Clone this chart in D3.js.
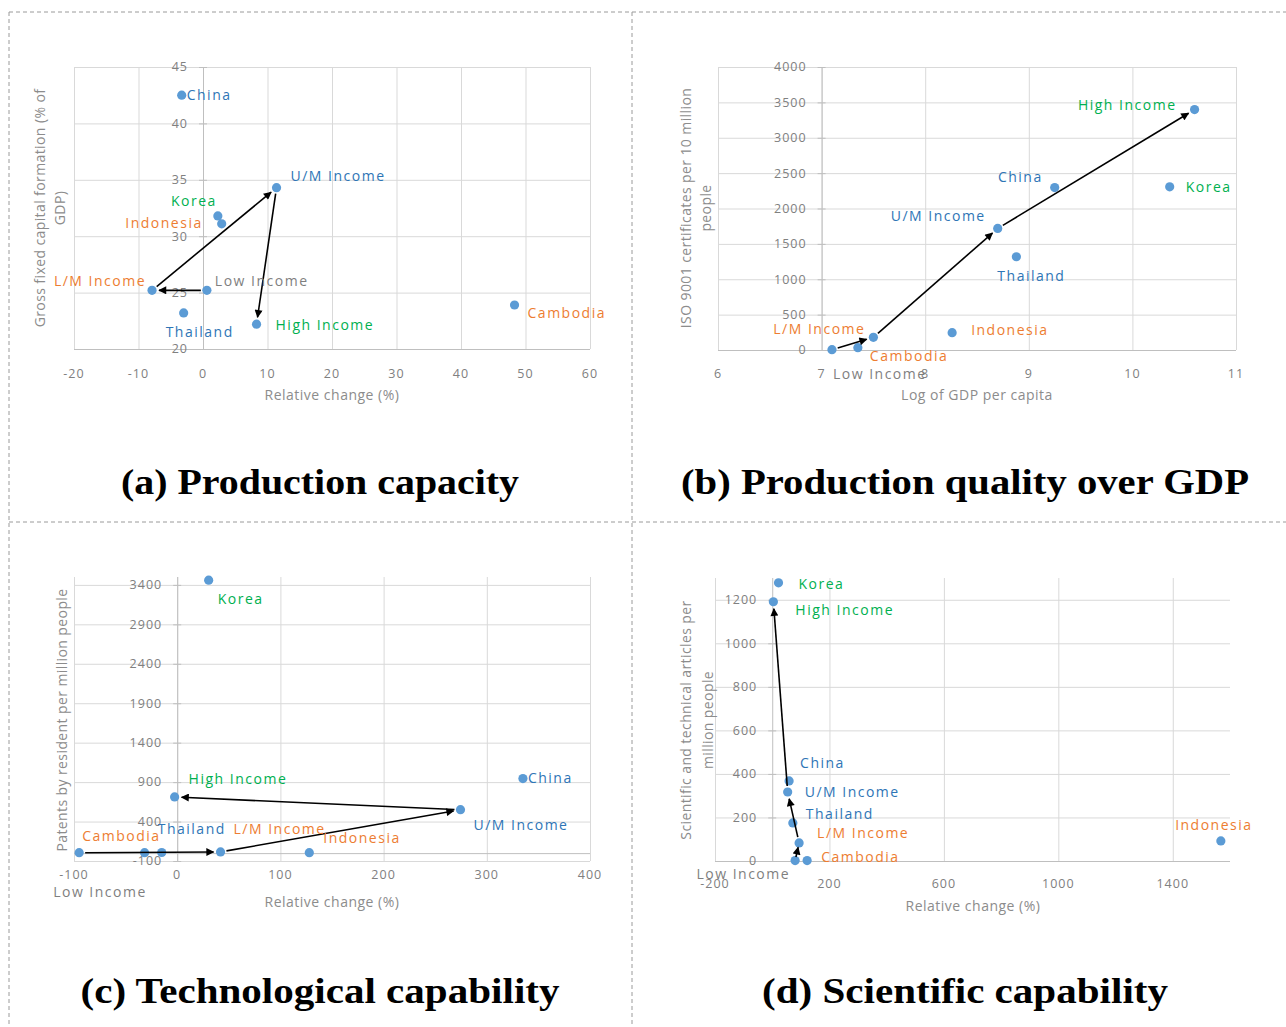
<!DOCTYPE html>
<html>
<head>
<meta charset="utf-8">
<script src="https://cdn.jsdelivr.net/npm/d3@7"></script>
<style>
  html, body { margin: 0; padding: 0; background: #fff; }
  svg { display: block; }
</style>
</head>
<body>
<svg id="chart" width="1286" height="1027"></svg>
<script>
// ---------------- DATA ----------------
const names = ["Low Income", "L/M Income", "U/M Income", "High Income", "China", "Korea", "Indonesia", "Thailand", "Cambodia"];
const incomePath = ["Low Income", "L/M Income", "U/M Income", "High Income"];

// (a) Production capacity
const aX = [0.6, -7.9, 11.4, 8.3, -3.3, 2.3, 2.9, -3.0, 48.3];
const aY = [25.2, 25.2, 34.3, 22.2, 42.5, 31.8, 31.1, 23.2, 23.9];
const aXTicks = [-20, -10, 0, 10, 20, 30, 40, 50, 60];
const aYTicks = [20, 25, 30, 35, 40, 45];

// (b) Production quality over GDP
const bX = [7.10, 7.50, 8.70, 10.60, 9.25, 10.36, 8.26, 8.88, 7.35];
const bY = [5, 179, 1718, 3398, 2296, 2306, 245, 1318, 33];
const bXTicks = [6, 7, 8, 9, 10, 11];
const bYTicks = [0, 500, 1000, 1500, 2000, 2500, 3000, 3500, 4000];

// (c) Technological capability
const cX = [-95, 42, 274.5, -2.5, 335, 30.5, 128, -15, -31.6];
const cY = [5, 15, 550, 712, 945, 3460, 5, 8, 5];
const cXTicks = [-100, 0, 100, 200, 300, 400];
const cYTicks = [-100, 400, 900, 1400, 1900, 2400, 2900, 3400];

// (d) Scientific capability
const dX = [80, 94, 54, 4, 59, 22, 1568, 72, 122];
const dY = [2, 83, 317, 1191, 368, 1278, 92, 175, 2];
const dXTicks = [-200, 200, 600, 1000, 1400];
const dYTicks = [0, 200, 400, 600, 800, 1000, 1200];

// ---------------- STYLE / LAYOUT ----------------
const BLUE = "#2e75b6", GREEN = "#00b050", ORANGE = "#ed7d31", GRAY = "#7f7f7f";
const labelColor = {
  "Low Income": GRAY, "L/M Income": ORANGE, "U/M Income": BLUE, "High Income": GREEN,
  "China": BLUE, "Korea": GREEN, "Indonesia": ORANGE, "Thailand": BLUE, "Cambodia": ORANGE
};

const panels = [
  {
    xs: aX, ys: aY, xTicks: aXTicks, yTicks: aYTicks,
    xDomain: [-20, 60], yDomain: [20, 45], xRange: [74, 590], yRange: [349, 67],
    yAxisAt: 0, xAxisAt: 20, xLabelY: 378,
    xTitle: "Relative change (%)", xTitlePos: [332, 400],
    yTitle: ["Gross fixed capital formation (% of", "GDP)"], yTitleX: [40, 60], yTitleY: 208,
    title: "(a) Production capacity", titlePos: [320, 494], titleW: 398,
    labels: {
      "China": [5, 0, "start"], "U/M Income": [14, -12, "start"], "Korea": [-1, -15, "end"],
      "Indonesia": [-19, -1, "end"], "L/M Income": [-6, -9, "end"], "Low Income": [8, -9, "start"],
      "Thailand": [-18, 19, "start"], "High Income": [19, 1, "start"], "Cambodia": [13, 8, "start"]
    }
  },
  {
    xs: bX, ys: bY, xTicks: bXTicks, yTicks: bYTicks,
    xDomain: [6, 11], yDomain: [0, 4000], xRange: [718, 1236], yRange: [350, 67],
    yAxisAt: 7, xAxisAt: 0, xLabelY: 378,
    xTitle: "Log of GDP per capita", xTitlePos: [977, 400],
    yTitle: ["ISO 9001 certificates per 10 million", "people"], yTitleX: [686, 706], yTitleY: 208,
    title: "(b) Production quality over GDP", titlePos: [965, 494], titleW: 568,
    labels: {
      "High Income": [-18, -4, "end"], "China": [-12, -10, "end"], "Korea": [16, 0, "start"],
      "U/M Income": [-12, -12, "end"], "Thailand": [-19, 19, "start"], "L/M Income": [-8, -8, "end"],
      "Indonesia": [19, -3, "start"], "Cambodia": [12, 8, "start"], "Low Income": [1, 24, "start"]
    }
  },
  {
    xs: cX, ys: cY, xTicks: cXTicks, yTicks: cYTicks,
    xDomain: [-100, 400], yDomain: [-100, 3500], xRange: [74, 590], yRange: [861, 577],
    yAxisAt: 0, xAxisAt: 0, xLabelY: 879,
    xTitle: "Relative change (%)", xTitlePos: [332, 907],
    yTitle: ["Patents by resident per million people"], yTitleX: [62], yTitleY: 720,
    title: "(c) Technological capability", titlePos: [320, 1003], titleW: 479,
    labels: {
      "Korea": [9, 19, "start"], "China": [5, 0, "start"], "High Income": [14, -18, "start"],
      "U/M Income": [13, 15, "start"], "Cambodia": [16, -17, "end"], "Thailand": [-4, -23, "start"],
      "L/M Income": [13, -23, "start"], "Indonesia": [14, -15, "start"], "Low Income": [-26, 39, "start"]
    }
  },
  {
    xs: dX, ys: dY, xTicks: dXTicks, yTicks: dYTicks,
    xDomain: [-200, 1600], yDomain: [0, 1300], xRange: [715, 1230], yRange: [861, 578],
    yAxisAt: 0, xAxisAt: 0, xLabelY: 888,
    xTitle: "Relative change (%)", xTitlePos: [973, 911],
    yTitle: ["Scientific and technical articles per", "million people"], yTitleX: [686, 708], yTitleY: 720,
    title: "(d) Scientific capability", titlePos: [965, 1003], titleW: 406,
    labels: {
      "Korea": [20, 1, "start"], "High Income": [22, 8, "start"], "China": [11, -18, "start"],
      "U/M Income": [17, 0, "start"], "Thailand": [13, -9, "start"], "L/M Income": [18, -10, "start"],
      "Cambodia": [14, -3, "start"], "Indonesia": [-7, -16, "middle"], "Low Income": [-5, 14, "end"]
    }
  }
];

const FONT = "'Open Sans', 'Noto Sans', 'DejaVu Sans', sans-serif";
const svg = d3.select("#chart");

// arrow marker
svg.append("defs").append("marker")
  .attr("id", "arrow").attr("markerUnits", "userSpaceOnUse")
  .attr("viewBox", "0 0 10 10").attr("refX", 9).attr("refY", 5)
  .attr("markerWidth", 9).attr("markerHeight", 8).attr("orient", "auto")
  .append("path").attr("d", "M0,0 L10,5 L0,10 Z").attr("fill", "#000");

// dashed frame
const frame = svg.append("g").attr("stroke", "#9a9a9a").attr("stroke-width", 1)
  .attr("stroke-dasharray", "4,3").attr("fill", "none");
[[9, 12, 1286, 12], [9, 12, 9, 1027], [632, 12, 632, 1027], [9, 522, 1286, 522]]
  .forEach(l => frame.append("line").attr("x1", l[0]).attr("y1", l[1]).attr("x2", l[2]).attr("y2", l[3]));

panels.forEach(p => {
  const x = d3.scaleLinear().domain(p.xDomain).range(p.xRange);
  const y = d3.scaleLinear().domain(p.yDomain).range(p.yRange);
  const g = svg.append("g");
  const [x0, x1] = p.xRange, [yb, yt] = p.yRange;

  // gridlines
  const grid = g.append("g").attr("stroke", "#d9d9d9").attr("stroke-width", 1);
  p.yTicks.forEach(t => grid.append("line")
    .attr("x1", x0).attr("x2", x1).attr("y1", y(t) + 0.5).attr("y2", y(t) + 0.5));
  p.xTicks.forEach(t => grid.append("line")
    .attr("x1", x(t) + 0.5).attr("x2", x(t) + 0.5).attr("y1", yb).attr("y2", yt));

  // axis lines (crossing inside plot)
  const ax = g.append("g").attr("stroke", "#bfbfbf").attr("stroke-width", 1);
  ax.append("line").attr("x1", x(p.yAxisAt) + 0.5).attr("x2", x(p.yAxisAt) + 0.5).attr("y1", yb).attr("y2", yt);
  ax.append("line").attr("x1", x0).attr("x2", x1).attr("y1", y(p.xAxisAt) + 0.5).attr("y2", y(p.xAxisAt) + 0.5);
  p.yTicks.forEach(t => ax.append("line")
    .attr("x1", x(p.yAxisAt) - 4).attr("x2", x(p.yAxisAt) + 4).attr("y1", y(t) + 0.5).attr("y2", y(t) + 0.5));

  // y tick labels
  g.append("g").selectAll("text").data(p.yTicks).join("text")
    .attr("x", x(p.yAxisAt) - 15).attr("y", d => y(d)).attr("dy", "0.35em")
    .attr("text-anchor", "end").attr("font-family", FONT).attr("font-size", 12.5)
    .attr("letter-spacing", 1).attr("fill", "#808080").text(d => d);

  // x tick labels
  g.append("g").selectAll("text").data(p.xTicks).join("text")
    .attr("x", d => x(d)).attr("y", p.xLabelY)
    .attr("text-anchor", "middle").attr("font-family", FONT).attr("font-size", 12.5)
    .attr("letter-spacing", 1).attr("fill", "#808080").text(d => d);

  // axis titles
  g.append("text").attr("x", p.xTitlePos[0]).attr("y", p.xTitlePos[1])
    .attr("text-anchor", "middle").attr("font-family", FONT).attr("font-size", 14)
    .attr("letter-spacing", 0.5).attr("fill", "#8c8c8c").text(p.xTitle);
  p.yTitle.forEach((line, i) => {
    g.append("text")
      .attr("transform", `translate(${p.yTitleX[i]},${p.yTitleY}) rotate(-90)`)
      .attr("text-anchor", "middle").attr("dy", "0.35em")
      .attr("font-family", FONT).attr("font-size", 14).attr("letter-spacing", 0.4)
      .attr("fill", "#8c8c8c").text(line);
  });

  // points
  const pts = names.map((n, i) => ({ name: n, px: x(p.xs[i]), py: y(p.ys[i]) }));
  const byName = Object.fromEntries(pts.map(d => [d.name, d]));

  g.append("g").selectAll("circle").data(pts).join("circle")
    .attr("cx", d => d.px).attr("cy", d => d.py).attr("r", 4.6).attr("fill", "#5b9bd5");

  // arrows along income groups
  const arrows = g.append("g");
  for (let i = 0; i < incomePath.length - 1; i++) {
    const a = byName[incomePath[i]], b = byName[incomePath[i + 1]];
    const dx = b.px - a.px, dy = b.py - a.py, len = Math.hypot(dx, dy);
    const ux = dx / len, uy = dy / len;
    const s = Math.min(6, len * 0.2), e = Math.min(7, len * 0.25);
    arrows.append("line")
      .attr("x1", a.px + ux * s).attr("y1", a.py + uy * s)
      .attr("x2", b.px - ux * e).attr("y2", b.py - uy * e)
      .attr("stroke", "#000").attr("stroke-width", 1.6)
      .attr("marker-end", "url(#arrow)");
  }

  // data labels
  g.append("g").selectAll("text").data(pts).join("text")
    .attr("x", d => d.px + p.labels[d.name][0])
    .attr("y", d => d.py + p.labels[d.name][1])
    .attr("dy", "0.35em").attr("text-anchor", d => p.labels[d.name][2])
    .attr("font-family", FONT).attr("font-size", 14).attr("letter-spacing", 1.5)
    .attr("fill", d => labelColor[d.name]).text(d => d.name);

  // panel title
  g.append("text").attr("x", p.titlePos[0]).attr("y", p.titlePos[1])
    .attr("text-anchor", "middle")
    .attr("font-family", "'Liberation Serif', 'DejaVu Serif', serif")
    .attr("font-weight", "bold").attr("font-size", 35)
    .attr("textLength", p.titleW).attr("lengthAdjust", "spacingAndGlyphs")
    .attr("fill", "#000").text(p.title);
});
</script>
</body>
</html>
